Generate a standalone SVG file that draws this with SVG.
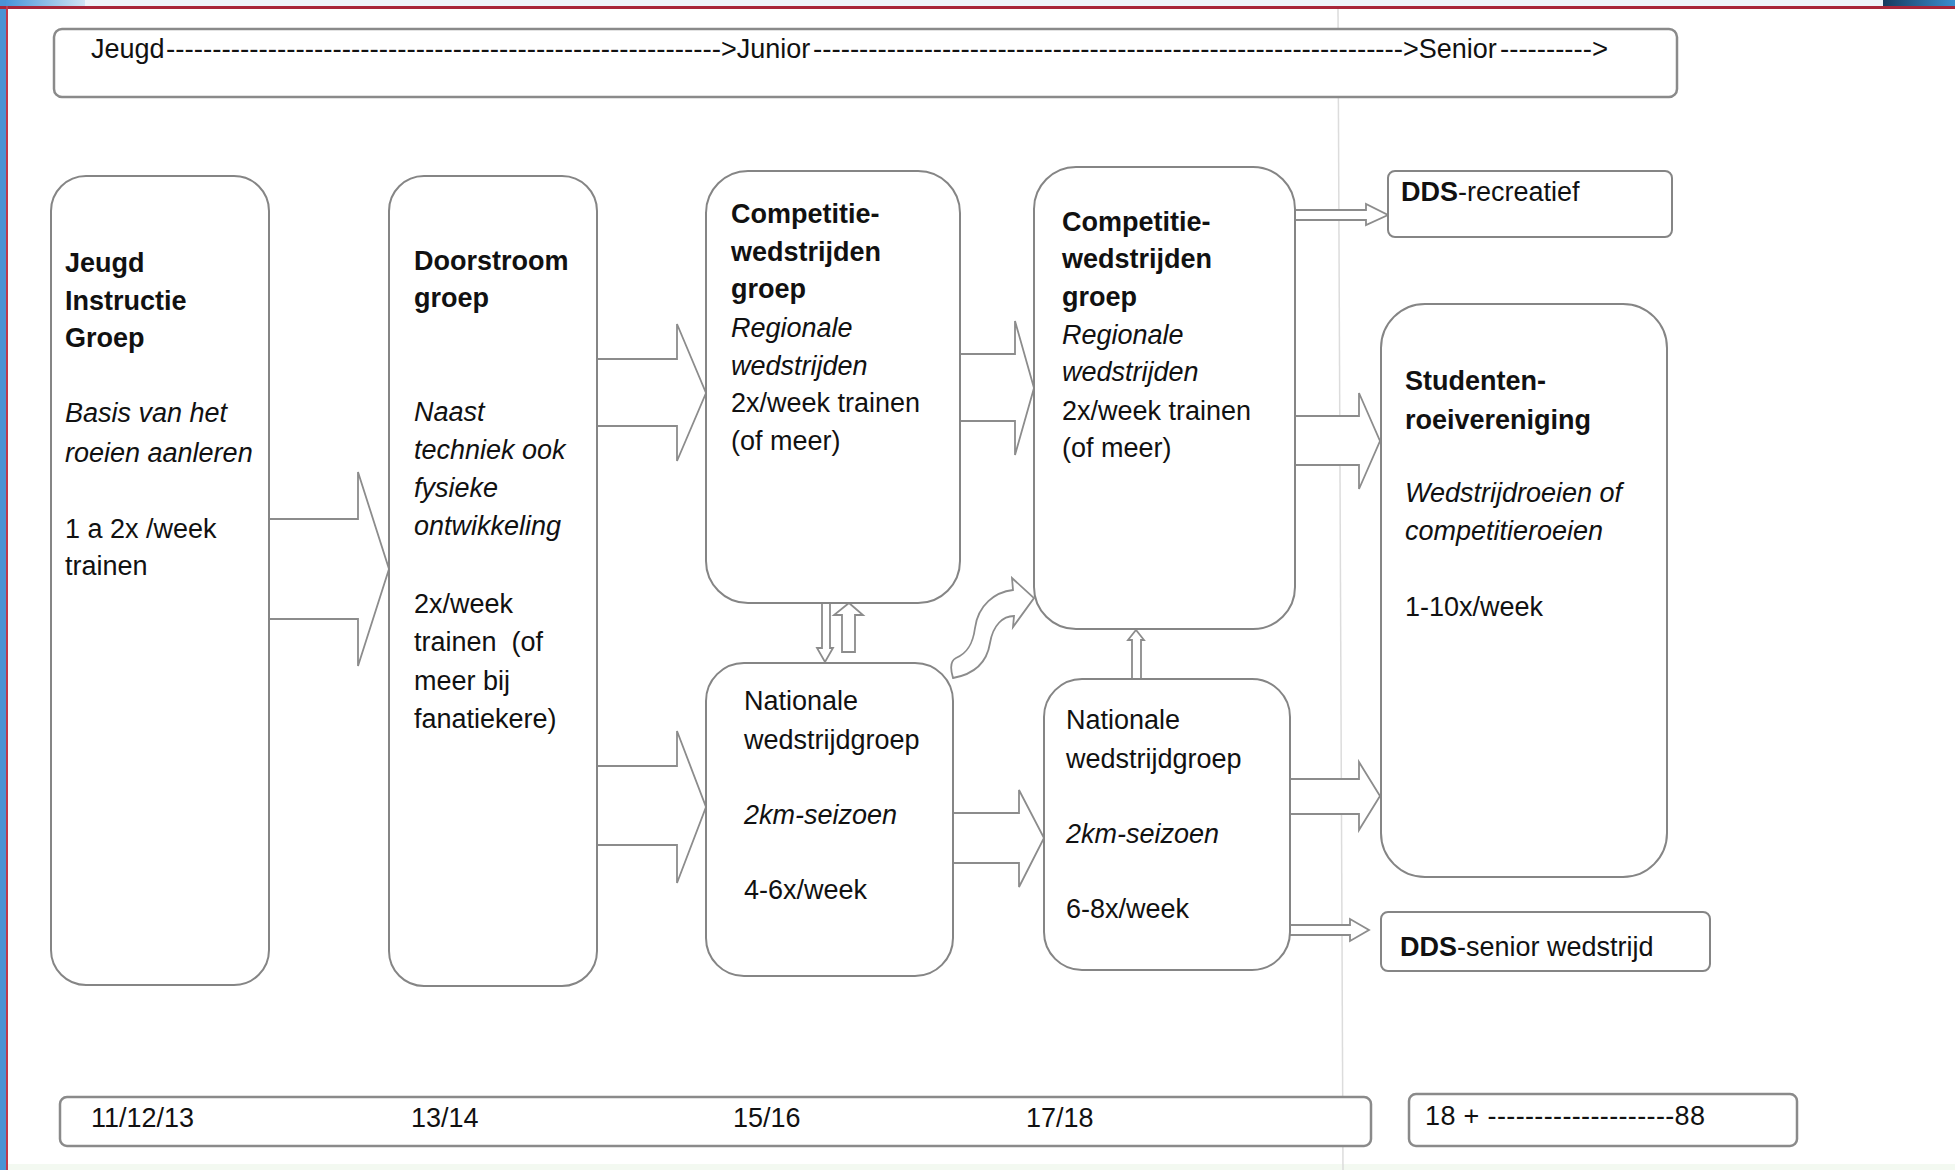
<svg xmlns="http://www.w3.org/2000/svg" width="1955" height="1170" viewBox="0 0 1955 1170">
<style>
.t{font-family:"Liberation Sans",Arial,Helvetica,sans-serif;font-size:27px;fill:#111}
.b{font-weight:bold}
.i{font-style:italic}
.box{fill:#fff;stroke:#858585;stroke-width:2}
.band{fill:#fff;stroke:#8a8a8a;stroke-width:2.5}
.arr{fill:#fff;stroke:#8c8c8c;stroke-width:1.8;stroke-linejoin:miter}
</style>
<defs>
<linearGradient id="tl" x1="0" y1="0" x2="1" y2="0"><stop offset="0" stop-color="#3f8fd6"/><stop offset="1" stop-color="#cfe4f5"/></linearGradient>
<linearGradient id="tr" x1="0" y1="0" x2="1" y2="0"><stop offset="0" stop-color="#173a5e"/><stop offset="1" stop-color="#3b8fd0"/></linearGradient>
</defs>
<rect x="0" y="0" width="1955" height="1170" fill="#fff"/>
<g id="frame">
<rect x="0" y="0" width="1955" height="7" fill="#eef4fa"/>
<rect x="0" y="0" width="85" height="7" fill="url(#tl)"/>
<rect x="1883" y="0" width="72" height="7" fill="url(#tr)"/>
<rect x="0" y="0" width="6" height="1170" fill="#4a93d4"/>
<rect x="0" y="6" width="1955" height="3" fill="#a8263a"/>
<rect x="6" y="6" width="2" height="1164" fill="#c0394a"/>
<rect x="8" y="1164" width="1947" height="6" fill="#f3f9f1"/>
<line x1="1338" y1="9" x2="1343" y2="1170" stroke="#dcdcdc" stroke-width="1.5"/>
</g>
<g id="header">
<rect class="band" x="54" y="29" width="1623" height="68" rx="8"/>
<text class="t" y="58"><tspan x="91">Jeugd</tspan><tspan x="166" textLength="555" lengthAdjust="spacingAndGlyphs">------------------------------------------------------------</tspan><tspan x="721">&gt;Junior</tspan><tspan x="813" textLength="590" lengthAdjust="spacingAndGlyphs">----------------------------------------------------------------</tspan><tspan x="1403">&gt;Senior</tspan><tspan x="1500" textLength="108" lengthAdjust="spacingAndGlyphs">----------&gt;</tspan></text>
</g>
<g id="ages">
<rect class="band" x="60" y="1097" width="1311" height="49" rx="7"/>
<text class="t" x="91" y="1127">11/12/13</text>
<text class="t" x="411" y="1127">13/14</text>
<text class="t" x="733" y="1127">15/16</text>
<text class="t" x="1026" y="1127">17/18</text>
<rect class="band" x="1409" y="1094" width="388" height="52" rx="7"/>
<text class="t" x="1425" y="1125" textLength="280" lengthAdjust="spacing">18 + --------------------88</text>
</g>
<g id="connectors">
<path id="a1" class="arr" d="M269,519 H358 V472 L389,569 L358,666 V619 H269"/>
<path id="a2" class="arr" d="M597,359 H677 V324 L706,393 L677,461 V426 H597"/>
<path id="a3" class="arr" d="M597,766 H677 V731 L706,807 L677,883 V845 H597"/>
<path id="a4" class="arr" d="M960,354 H1015 V321 L1034,388 L1015,455 V421 H960"/>
<path id="a5" class="arr" d="M953,813 H1019 V790 L1044,838 L1019,887 V863 H953"/>
<path id="a6" class="arr" d="M1295,416 H1359 V393 L1380,441 L1359,489 V465 H1295"/>
<path id="a7" class="arr" d="M1290,779 H1359 V762 L1380,796 L1359,830 V814 H1290"/>
<path id="a8" class="arr" d="M1295,210 H1366 V204 L1388,215 L1366,225 V220 H1295"/>
<path id="a9" class="arr" d="M1290,925 H1350 V919 L1369,930 L1350,941 V935 H1290"/>
<path id="a10" class="arr" d="M822,603 V648 H817 L825,662 L833,648 H830 V603"/>
<path id="a11" class="arr" d="M842,652 V615 H834 L849,603 L863,615 H855 V652 Z"/>
<path id="a12" class="arr" d="M1132,678 V640 H1128 L1136,630 L1144,640 H1141 V678"/>
<path id="a13" class="arr" d="M953,678 C950,668 950,661 956,658 C968,653 973,643 975,628 C978,605 995,592 1013,590 L1012,578 L1034,598 L1013,627 L1014,616 C1003,616 993,625 990,643 C987,662 975,674 953,678 Z"/>
</g>
<g id="n1">
<rect class="box" x="51" y="176" width="218" height="809" rx="35"/>
<text class="t b" x="65" y="272">Jeugd</text>
<text class="t b" x="65" y="310">Instructie</text>
<text class="t b" x="65" y="347">Groep</text>
<text class="t i" x="65" y="422">Basis van het</text>
<text class="t i" x="65" y="462">roeien aanleren</text>
<text class="t" x="65" y="538">1 a 2x /week</text>
<text class="t" x="65" y="575">trainen</text>
</g>
<g id="n2">
<rect class="box" x="389" y="176" width="208" height="810" rx="35"/>
<text class="t b" x="414" y="270">Doorstroom</text>
<text class="t b" x="414" y="307">groep</text>
<text class="t i" x="414" y="421">Naast</text>
<text class="t i" x="414" y="459">techniek ook</text>
<text class="t i" x="414" y="497">fysieke</text>
<text class="t i" x="414" y="535">ontwikkeling</text>
<text class="t" x="414" y="613">2x/week</text>
<text class="t" x="414" y="651" xml:space="preserve">trainen  (of</text>
<text class="t" x="414" y="690">meer bij</text>
<text class="t" x="414" y="728">fanatiekere)</text>
</g>
<g id="n3">
<rect class="box" x="706" y="171" width="254" height="432" rx="42"/>
<text class="t b" x="731" y="223">Competitie-</text>
<text class="t b" x="731" y="261">wedstrijden</text>
<text class="t b" x="731" y="298">groep</text>
<text class="t i" x="731" y="337">Regionale</text>
<text class="t i" x="731" y="375">wedstrijden</text>
<text class="t" x="731" y="412">2x/week trainen</text>
<text class="t" x="731" y="450">(of meer)</text>
</g>
<g id="n4">
<rect class="box" x="706" y="663" width="247" height="313" rx="38"/>
<text class="t" x="744" y="710">Nationale</text>
<text class="t" x="744" y="749">wedstrijdgroep</text>
<text class="t i" x="744" y="824">2km-seizoen</text>
<text class="t" x="744" y="899">4-6x/week</text>
</g>
<g id="n5">
<rect class="box" x="1034" y="167" width="261" height="462" rx="42"/>
<text class="t b" x="1062" y="231">Competitie-</text>
<text class="t b" x="1062" y="268">wedstrijden</text>
<text class="t b" x="1062" y="306">groep</text>
<text class="t i" x="1062" y="344">Regionale</text>
<text class="t i" x="1062" y="381">wedstrijden</text>
<text class="t" x="1062" y="420">2x/week trainen</text>
<text class="t" x="1062" y="457">(of meer)</text>
</g>
<g id="n6">
<rect class="box" x="1044" y="679" width="246" height="291" rx="38"/>
<text class="t" x="1066" y="729">Nationale</text>
<text class="t" x="1066" y="768">wedstrijdgroep</text>
<text class="t i" x="1066" y="843">2km-seizoen</text>
<text class="t" x="1066" y="918">6-8x/week</text>
</g>
<g id="n7">
<rect class="box" x="1388" y="171" width="284" height="66" rx="7"/>
<text class="t" x="1401" y="201"><tspan class="b">DDS</tspan>-recreatief</text>
</g>
<g id="n8">
<rect class="box" x="1381" y="304" width="286" height="573" rx="44"/>
<text class="t b" x="1405" y="390">Studenten-</text>
<text class="t b" x="1405" y="429">roeivereniging</text>
<text class="t i" x="1405" y="502">Wedstrijdroeien of</text>
<text class="t i" x="1405" y="540">competitieroeien</text>
<text class="t" x="1405" y="616">1-10x/week</text>
</g>
<g id="n9">
<rect class="box" x="1381" y="912" width="329" height="59" rx="7"/>
<text class="t" x="1400" y="956"><tspan class="b">DDS</tspan>-senior wedstrijd</text>
</g>
</svg>
